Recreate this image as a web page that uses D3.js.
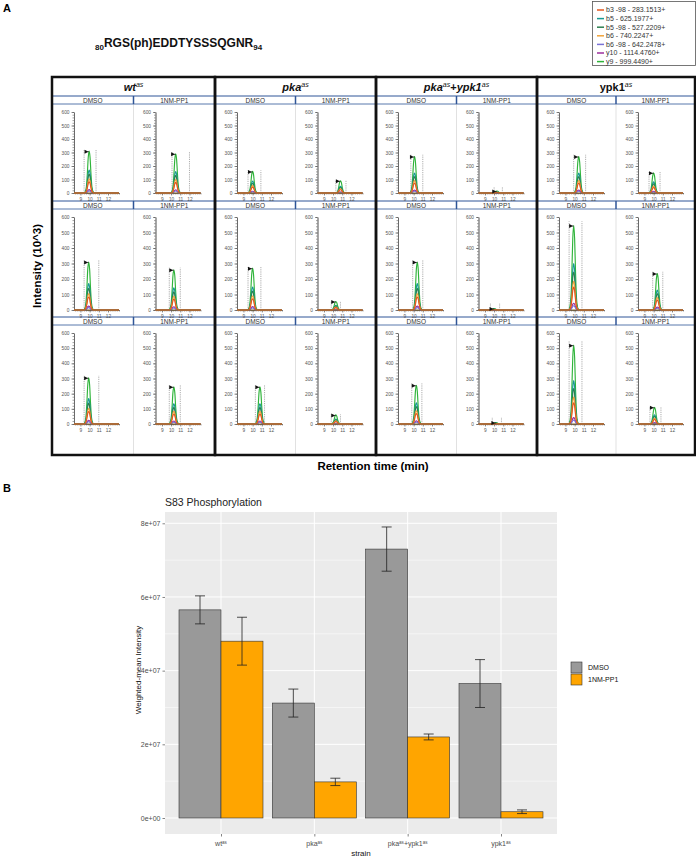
<!DOCTYPE html>
<html><head><meta charset="utf-8">
<script src="https://cdn.jsdelivr.net/npm/d3@7"></script>
<style>body{margin:0;background:#fff}svg{display:block}</style>
</head><body>
<svg id="c" width="696" height="858"></svg>
<script>
// ---------- Part A data ----------
const strains = ["wt", "pka", "pka+ypk1", "ypk1"];
const treatments = ["DMSO", "1NM-PP1"];
const ions = ["b3 -98 - 283.1513+", "b5 - 625.1977+", "b5 -98 - 527.2209+", "b6 - 740.2247+", "b6 -98 - 642.2478+", "y10 - 1114.4760+", "y9 - 999.4490+"];
const ionColors = ["#e4571e", "#179a93", "#2d7f4e", "#f2a43a", "#7a72d6", "#9c2f9c", "#2fb43a"];
const ionRatio = [0.27, 0.55, 0.45, 0.34, 0.05, 0.08, 1.0];
// per row, 8 panels: wt DMSO, wt 1NM, pka DMSO, pka 1NM, pka+ypk1 DMSO, pka+ypk1 1NM, ypk1 DMSO, ypk1 1NM
const peakRT = [
  [9.95, 10.5, 10.0, 10.8, 10.1, 10.3, 10.45, 10.0],
  [9.9, 10.3, 10.0, 10.3, 10.4, 10.0, 9.9, 10.4],
  [9.9, 10.3, 10.8, 10.3, 10.3, 10.2, 9.9, 10.1]
];
const peakHeight = [
  [310, 290, 160, 90, 270, 15, 270, 150],
  [310, 260, 270, 55, 310, 10, 545, 235],
  [305, 245, 245, 60, 255, 10, 520, 110]
];
const boundLeft = [
  [9.4, 10.1, 9.5, 10.3, 9.7, 10.0, 9.9, 9.5],
  [9.4, 9.8, 9.5, 9.8, 9.9, 9.6, 9.4, 9.9],
  [9.4, 9.8, 10.3, 9.8, 9.8, 9.8, 9.4, 9.6]
];
const boundRight = [
  [10.7, 12.0, 10.9, 11.4, 11.0, 10.9, 11.2, 10.7],
  [11.0, 11.0, 10.9, 10.8, 11.0, 10.6, 10.8, 11.0],
  [11.0, 11.0, 11.3, 10.8, 10.9, 10.8, 10.8, 10.8]
];
const profileOffset = [-0.6, -0.45, -0.3, -0.2, -0.1, 0, 0.1, 0.2, 0.3, 0.45, 0.6];
const profileValue = [0, 0.02, 0.15, 0.45, 0.85, 1, 0.85, 0.45, 0.15, 0.02, 0];
const rtTicks = [9, 10, 11, 12];
const intensityTicks = [0, 100, 200, 300, 400, 500, 600];

// ---------- Part B data ----------
const categories = ["wt", "pka", "pka+ypk1", "ypk1"];
const dmsoMean = [5.65e7, 3.12e7, 7.3e7, 3.65e7];
const dmsoSE = [0.38e7, 0.38e7, 0.6e7, 0.65e7];
const nmMean = [4.8e7, 0.98e7, 2.2e7, 0.17e7];
const nmSE = [0.65e7, 0.1e7, 0.08e7, 0.05e7];
const yTicksB = [0, 2e7, 4e7, 6e7, 8e7];
const yTickLabelsB = ["0e+00", "2e+07", "4e+07", "6e+07", "8e+07"];
const seriesNames = ["DMSO", "1NM-PP1"];
const seriesFill = ["#999999", "#ffa500"];

const svg = d3.select("#c");
const FA = "'Liberation Sans', Arial, sans-serif";

// ================= PART A =================
svg.append("text").attr("x", 3).attr("y", 12).attr("font-family", FA).attr("font-weight", "bold").attr("font-size", 11).text("A");

const tt = svg.append("text").attr("x", 95).attr("y", 47).attr("font-family", FA).attr("font-weight", "bold").attr("font-size", 12).attr("fill", "#111");
tt.append("tspan").attr("font-size", 8).attr("dy", 3).text("80");
tt.append("tspan").attr("dy", -3).text("RGS(ph)EDDTYSSSQGNR");
tt.append("tspan").attr("font-size", 8).attr("dy", 3).text("94");

const lg = svg.append("g");
lg.append("rect").attr("x", 592.5).attr("y", 1.5).attr("width", 103).attr("height", 64).attr("fill", "#fff").attr("stroke", "#555").attr("stroke-width", 0.8);
ions.forEach((n, i) => {
  const y = 10 + i * 8.6;
  lg.append("line").attr("x1", 597).attr("x2", 604).attr("y1", y).attr("y2", y).attr("stroke", ionColors[i]).attr("stroke-width", 1.5);
  lg.append("text").attr("x", 606).attr("y", y + 2.4).attr("font-family", FA).attr("font-size", 7).attr("fill", "#333").text(n);
});

const groupX = [52, 215, 376, 537, 695];
const gridTop = 77, gridBottom = 455, headerBottom = 96;
const rowSub = [96, 201, 317];
const rowY600 = [112, 217, 333];
const rowY0 = [193, 310, 424];
const blue = "#2f5597";

strains.forEach((s, gi) => {
  const x0 = groupX[gi], x1 = groupX[gi + 1], xm = (x0 + x1) / 2;
  svg.append("line").attr("x1", xm).attr("x2", xm).attr("y1", headerBottom).attr("y2", gridBottom).attr("stroke", "#d9d9d9").attr("stroke-width", 0.8);
  rowSub.forEach(sy => {
    svg.append("rect").attr("x", x0).attr("y", sy).attr("width", x1 - x0).attr("height", 8).attr("fill", "#fff");
    svg.append("line").attr("x1", x0).attr("x2", x1).attr("y1", sy).attr("y2", sy).attr("stroke", blue).attr("stroke-width", 1);
    svg.append("line").attr("x1", x0).attr("x2", x1).attr("y1", sy + 8).attr("y2", sy + 8).attr("stroke", blue).attr("stroke-width", 0.8);
    svg.append("line").attr("x1", xm).attr("x2", xm).attr("y1", sy).attr("y2", sy + 8).attr("stroke", blue).attr("stroke-width", 1.5);
    treatments.forEach((t, ti) => {
      svg.append("text").attr("x", ti === 0 ? (x0 + xm) / 2 : (xm + x1) / 2).attr("y", sy + 6.5)
        .attr("text-anchor", "middle").attr("font-family", FA).attr("font-size", 6.5).attr("fill", "#333").text(t);
    });
  });
  const ht = svg.append("text").attr("x", xm).attr("y", 91).attr("text-anchor", "middle").attr("font-family", FA).attr("font-weight", "bold").attr("font-size", 11).attr("fill", "#111");
  const parts = s.split("+");
  parts.forEach((p, pi) => {
    if (pi > 0) ht.append("tspan").attr("dy", 4).attr("font-style", "normal").text("+");
    ht.append("tspan").attr("font-style", p === "ypk1" && parts.length === 1 ? "normal" : "italic").text(p);
    ht.append("tspan").attr("dy", -4).attr("font-size", 7).attr("font-style", "italic").attr("font-weight", "normal").text("as");
  });
});

const line = d3.line().curve(d3.curveMonotoneX);
const drawOrder = [6, 1, 2, 5, 4, 3, 0];
for (let r = 0; r < 3; r++) {
  for (let p = 0; p < 8; p++) {
    const gi = Math.floor(p / 2), ti = p % 2;
    const x0 = groupX[gi], xm = (groupX[gi] + groupX[gi + 1]) / 2;
    const L = ti === 0 ? x0 : xm;
    const xs = d3.scaleLinear().domain([8.3, 13.2]).range([L + 22, L + 67]);
    const ys = d3.scaleLinear().domain([0, 600]).range([rowY0[r], rowY600[r]]);
    const g = svg.append("g");
    const yMinor = d3.range(0, 601, 20);
    g.append("g").attr("transform", `translate(${L + 22},0)`)
      .call(d3.axisLeft(ys).tickValues(yMinor).tickSize(1.5).tickSizeOuter(0).tickFormat(""))
      .call(a => a.selectAll("line,path").attr("stroke", "#444").attr("stroke-width", 0.5));
    g.append("g").attr("transform", `translate(${L + 22},0)`)
      .call(d3.axisLeft(ys).tickValues(intensityTicks).tickSize(2.5).tickPadding(2).tickSizeOuter(0))
      .call(a => { a.selectAll("line,path").attr("stroke", "#444").attr("stroke-width", 0.6); a.selectAll("text").attr("font-family", FA).attr("font-size", 4.8).attr("fill", "#555"); });
    const xMinor = d3.range(8.4, 13.21, 0.2);
    g.append("g").attr("transform", `translate(0,${rowY0[r]})`)
      .call(d3.axisBottom(xs).tickValues(xMinor).tickSize(1.5).tickSizeOuter(0).tickFormat(""))
      .call(a => a.selectAll("line,path").attr("stroke", "#444").attr("stroke-width", 0.5));
    g.append("g").attr("transform", `translate(0,${rowY0[r]})`)
      .call(d3.axisBottom(xs).tickValues(rtTicks).tickFormat(d3.format("d")).tickSize(2.5).tickPadding(2).tickSizeOuter(0))
      .call(a => { a.selectAll("line,path").attr("stroke", "#444").attr("stroke-width", 0.6); a.selectAll("text").attr("font-family", FA).attr("font-size", 4.8).attr("fill", "#555"); });
    const h = peakHeight[r][p];
    const bh = Math.max(h * 1.05, 45);
    [boundLeft[r][p], boundRight[r][p]].forEach(b => {
      g.append("line").attr("x1", xs(b)).attr("x2", xs(b)).attr("y1", ys(0)).attr("y2", ys(bh))
        .attr("stroke", "#8a8a8a").attr("stroke-width", 0.7).attr("stroke-dasharray", "1.2,1");
    });
    drawOrder.forEach(k => {
      const pts = [[8.3, 0]].concat(profileOffset.map((o, j) => [peakRT[r][p] + o, h * ionRatio[k] * profileValue[j]])).concat([[13.2, 0]]);
      g.append("path").attr("d", line(pts.map(d => [xs(d[0]), ys(d[1])]))).attr("fill", "none")
        .attr("stroke", ionColors[k]).attr("stroke-width", 1.15);
    });
    g.append("line").attr("x1", xs(8.3)).attr("x2", xs(13.2)).attr("y1", ys(0)).attr("y2", ys(0)).attr("stroke", "#8a6a2c").attr("stroke-width", 1);
    const mx = xs(peakRT[r][p] - 0.5), my = ys(h) + 0.5;
    g.append("path").attr("d", `M${mx},${my - 2}L${mx + 4},${my}L${mx},${my + 2}Z`).attr("fill", "#111");
    g.append("line").attr("x1", mx + 3).attr("x2", xs(peakRT[r][p])).attr("y1", my).attr("y2", my).attr("stroke", "#111").attr("stroke-width", 0.6);
  }
}

strains.forEach((s, gi) => {
  svg.append("rect").attr("x", groupX[gi]).attr("y", gridTop).attr("width", groupX[gi + 1] - groupX[gi]).attr("height", gridBottom - gridTop)
    .attr("fill", "none").attr("stroke", "#111").attr("stroke-width", 2.5);
});

svg.append("text").attr("transform", "translate(41,266) rotate(-90)").attr("text-anchor", "middle").attr("font-family", FA).attr("font-weight", "bold").attr("font-size", 11.5).text("Intensity (10^3)");
svg.append("text").attr("x", 373).attr("y", 470).attr("text-anchor", "middle").attr("font-family", FA).attr("font-weight", "bold").attr("font-size", 11.5).text("Retention time (min)");

// ================= PART B =================
svg.append("text").attr("x", 3).attr("y", 492).attr("font-family", FA).attr("font-weight", "bold").attr("font-size", 11).text("B");
const pL = 165, pR = 557, pT = 512, pB = 834;
const xB = d3.scaleLinear().domain([0.4, 4.6]).range([pL, pR]);
const yB = d3.scaleLinear().domain([0, 8e7]).range([818, 523.3]);
svg.append("text").attr("x", pL).attr("y", 506).attr("font-family", FA).attr("font-size", 10.5).attr("fill", "#222").text("S83 Phosphorylation");
svg.append("rect").attr("x", pL).attr("y", pT).attr("width", pR - pL).attr("height", pB - pT).attr("fill", "#ebebeb");
[1e7, 3e7, 5e7, 7e7].forEach(v => svg.append("line").attr("x1", pL).attr("x2", pR).attr("y1", yB(v)).attr("y2", yB(v)).attr("stroke", "#fff").attr("stroke-width", 0.5));
yTicksB.forEach(v => svg.append("line").attr("x1", pL).attr("x2", pR).attr("y1", yB(v)).attr("y2", yB(v)).attr("stroke", "#fff").attr("stroke-width", 1));
categories.forEach((c, i) => svg.append("line").attr("x1", xB(i + 1)).attr("x2", xB(i + 1)).attr("y1", pT).attr("y2", pB).attr("stroke", "#fff").attr("stroke-width", 1));

const means = [dmsoMean, nmMean], ses = [dmsoSE, nmSE];
categories.forEach((c, i) => {
  [0, 1].forEach(s => {
    const xa = xB(i + 1 + (s === 0 ? -0.45 : 0)), xb = xB(i + 1 + (s === 0 ? 0 : 0.45));
    svg.append("rect").attr("x", xa).attr("y", yB(means[s][i])).attr("width", xb - xa).attr("height", yB(0) - yB(means[s][i]))
      .attr("fill", seriesFill[s]).attr("stroke", "#333").attr("stroke-width", 0.6);
  });
});
categories.forEach((c, i) => {
  [0, 1].forEach(s => {
    const cx = xB(i + 1 + (s === 0 ? -0.225 : 0.225));
    const hi = yB(means[s][i] + ses[s][i]), lo = yB(means[s][i] - ses[s][i]);
    const e = svg.append("g").attr("stroke", "#222").attr("stroke-width", 0.8);
    e.append("line").attr("x1", cx).attr("x2", cx).attr("y1", hi).attr("y2", lo);
    e.append("line").attr("x1", cx - 5).attr("x2", cx + 5).attr("y1", hi).attr("y2", hi);
    e.append("line").attr("x1", cx - 5).attr("x2", cx + 5).attr("y1", lo).attr("y2", lo);
  });
});
const yAx = svg.append("g").attr("transform", `translate(${pL},0)`)
  .call(d3.axisLeft(yB).tickValues(yTicksB).tickFormat((d, i) => yTickLabelsB[i]).tickSize(2.5).tickPadding(2).tickSizeOuter(0));
yAx.select("path").remove();
yAx.selectAll("line").attr("stroke", "#333").attr("stroke-width", 0.6);
yAx.selectAll("text").attr("font-family", FA).attr("font-size", 7).attr("fill", "#4d4d4d");
const xAx = svg.append("g").attr("transform", `translate(0,${pB})`)
  .call(d3.axisBottom(xB).tickValues([1, 2, 3, 4]).tickFormat("").tickSize(2.5).tickSizeOuter(0));
xAx.select("path").remove();
xAx.selectAll("line").attr("stroke", "#333").attr("stroke-width", 0.6);
categories.forEach((c, i) => {
  const t = svg.append("text").attr("x", xB(i + 1)).attr("y", 846).attr("text-anchor", "middle").attr("font-family", FA).attr("font-size", 7).attr("fill", "#4d4d4d");
  c.split("+").forEach((p, pi) => {
    t.append("tspan").attr("dy", pi > 0 ? 2.5 : null).text((pi > 0 ? "+" : "") + p);
    t.append("tspan").attr("dy", -2.5).attr("font-size", 4.5).text("as");
  });
});
svg.append("text").attr("x", (pL + pR) / 2).attr("y", 856).attr("text-anchor", "middle").attr("font-family", FA).attr("font-size", 8).attr("fill", "#111").text("strain");
svg.append("text").attr("transform", "translate(141,670) rotate(-90)").attr("text-anchor", "middle").attr("font-family", FA).attr("font-size", 8).attr("fill", "#111").text("Weighted-mean Intensity");
seriesNames.forEach((n, i) => {
  const y = 662 + i * 12;
  svg.append("rect").attr("x", 571).attr("y", y).attr("width", 11).attr("height", 11).attr("fill", seriesFill[i]).attr("stroke", "#333").attr("stroke-width", 0.6);
  svg.append("text").attr("x", 588).attr("y", y + 8).attr("font-family", FA).attr("font-size", 7).attr("fill", "#111").text(n);
});
</script>
</body></html>
